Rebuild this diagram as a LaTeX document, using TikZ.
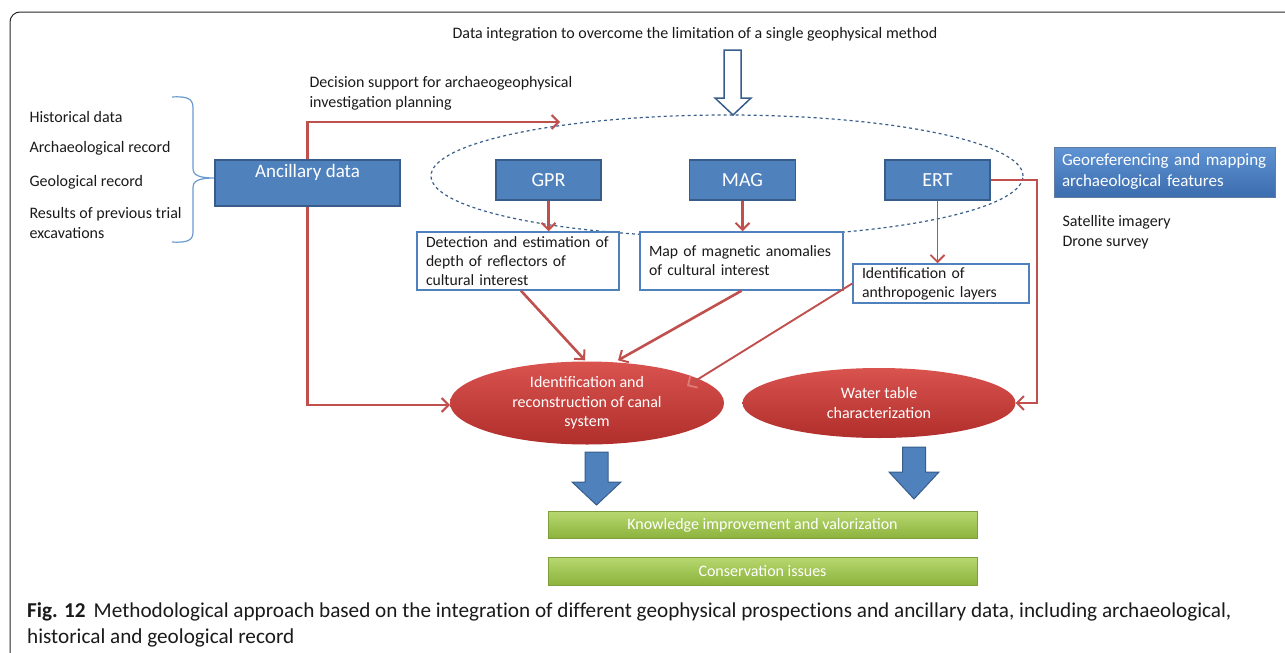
\documentclass[tikz,border=0pt]{standalone}
\usepackage{fontspec}
\setmainfont{Carlito}
\newfontfamily\capfont{Carlito}[Ligatures=NoCommon]
\usetikzlibrary{arrows.meta,calc,shapes.geometric}
\definecolor{bfill}{HTML}{4F81BD}
\definecolor{bdraw}{HTML}{385D8A}
\definecolor{rline}{HTML}{C0504D}
\definecolor{etop}{HTML}{D9534F}
\definecolor{ebot}{HTML}{B02E2B}
\definecolor{gtop}{HTML}{B7D870}
\definecolor{gbot}{HTML}{8CB23C}
\definecolor{gdraw}{HTML}{7E9F3C}
\definecolor{brc}{HTML}{6A9AD0}
\definecolor{gtopb}{HTML}{5E93D4}
\definecolor{gbotb}{HTML}{3C6DAE}
\definecolor{txt}{HTML}{1A1A1A}
\definecolor{rhead}{HTML}{E07A77}
\tikzset{
  fsmall/.style={font=\fontsize{16}{20}\selectfont, text=txt},
  bluebox/.style={draw=bdraw, line width=1.2, fill=bfill, text=white,
    font=\fontsize{20}{22}\selectfont, inner sep=0},
  whitebox/.style={draw=bfill, line width=1.5, fill=white, align=left,
    font=\fontsize{15.7}{19}\selectfont, text=txt, inner xsep=9, inner ysep=0},
  redell/.style={ellipse, top color=etop, bottom color=ebot, draw=none, text=white,
    align=center, inner sep=0, font=\fontsize{16}{19.5}\selectfont},
  rarrow/.style={draw=rline, line width=2.6, -{Straight Barb[length=7,width=14,line width=2]}},
  rarrowthin/.style={draw=rline, line width=1.9, -{Straight Barb[length=7,width=14,line width=1.8]}},
  greenbar/.style={top color=gtop, bottom color=gbot, draw=gdraw, line width=.6,
    minimum width=429, minimum height=27, inner sep=0, text=white,
    font=\fontsize{16}{18}\selectfont},
  blockarrow/.style={draw=bdraw, line width=1, fill=bfill},
}
\begin{document}
\begin{tikzpicture}[x=1pt,y=-1pt]
\useasboundingbox (0,0) rectangle (1285,653);
% frame
\draw[line width=1, black!85, rounded corners=10] (10,700) -- (10,12) -- (1330,12);

% top text and hollow arrow
\node[fsmall] (toptext) at (695,34) {Data integration to overcome the limitation of a single geophysical method};
\draw[draw=bdraw, fill=white, line width=1.5] (724,50) -- (741,50) -- (741,98) -- (751,98) -- (733,115) -- (715,98) -- (724,98) -- cycle;

% dashed ellipse
\node[ellipse, draw=bdraw, dashed, line width=1.2, minimum width=592, minimum height=122, inner sep=0] (integ) at (727,176) {};

% left list
\node[fsmall, anchor=west] (hist) at (26,117) {Historical data};
\node[fsmall, anchor=west] (arch) at (26,148) {Archaeological record};
\node[fsmall, anchor=west] (geol) at (26,182) {Geological record};
\node[fsmall, anchor=west, align=left] (res) at (26,223) {Results of previous trial\\excavations};
\draw[brc, line width=1.2] (172,97) .. controls (188,96) and (193,99) .. (193,108) -- (193,168)
  .. controls (193,175) and (198,178) .. (215,178)
  .. controls (198,178) and (193,181) .. (193,188) -- (193,232)
  .. controls (193,240) and (188,243) .. (172,242);

% ancillary
\node[bluebox, minimum width=185, minimum height=46] (anc) at (307.5,183) {};
\node[text=white, font=\fontsize{19}{22}\selectfont] (anctext) at (307.5,172) {Ancillary data};
\node[fsmall, anchor=west, align=left] (decision) at (306,93) {Decision support for archaeogeophysical\\investigation planning};
\coordinate (dtip) at (560,122);
\draw[rarrow] (anc.north) |- (dtip);
\draw[rarrow] (anc.south) |- (450,405);

% methods
\node[bluebox, minimum width=105, minimum height=40] (gpr) at (548.5,180) {GPR};
\node[bluebox, minimum width=106, minimum height=40] (mag) at (742.5,180) {MAG};
\node[bluebox, minimum width=105, minimum height=40] (ert) at (937.5,180) {ERT};

% result boxes
\node[whitebox, minimum width=202, minimum height=58, text width=184] (b1) at (518,261)
  {Detection and estimation of\\depth of reflectors of\\cultural interest};
\node[whitebox, minimum width=203, minimum height=58, text width=185] (b2) at (741.5,261)
  {Map of magnetic anomalies\\of cultural interest};
\node[whitebox, minimum width=176, minimum height=39, text width=158] (b3) at (941,283.5)
  {Identification of\\anthropogenic layers};

\draw[rarrow] (gpr.south) -- (gpr.south |- b1.north);
\draw[rarrow] (mag.south) -- (mag.south |- b2.north);
\draw[rarrowthin] (ert.south) -- (ert.south |- b3.north);

% ellipses
\node[redell, minimum width=274, minimum height=83] (canal) at (587,403)
  {Identification and\\reconstruction of canal\\system};
\node[redell, minimum width=273, minimum height=70] (water) at (879,403)
  {Water table\\characterization};

\draw[rarrow] ($(b1.south)+(3,0)$) -- ($(canal.north)+(-2,-1)$);
\draw[rarrow] ($(b2.south)+(0,0)$) -- ($(canal.north)+(31,-1)$);
\draw[draw=rline, line width=1.9, -{Straight Barb[length=7,width=14,line width=1.8,color=rhead]}] (b3.west) -- ($(canal.center)+(100,-17)$);
\coordinate (ertturn) at (1037,180);
\draw[rarrowthin] (ert.east) -- (ertturn) |- (water.east);

% block arrows
\draw[blockarrow] (585,452) -- (608,452) -- (608,482) -- (621,482) -- (596.5,505) -- (572,482) -- (585,482) -- cycle;
\draw[blockarrow] (902.5,447) -- (925.5,447) -- (925.5,472) -- (939,472) -- (914,499) -- (889,472) -- (902.5,472) -- cycle;

% green bars
\node[greenbar] (know) at (762.5,525) {Knowledge improvement and valorization};
\node[greenbar, minimum height=28] (cons) at (762.5,571) {Conservation issues};

% georeferencing
\node[draw=bdraw!80, line width=.8, top color=gtopb, bottom color=gbotb, minimum width=221,
  minimum height=50, text width=205, inner xsep=8, inner ysep=0, align=left, text=white,
  font=\fontsize{17}{21}\selectfont] (geo) at (1164.5,172) {Georeferencing and mapping\\archaeological features};
\node[anchor=west, align=left, text=txt, font=\fontsize{16}{20.5}\selectfont] (sat) at (1059,232) {Satellite imagery\\Drone survey};

% caption
\node[anchor=base west, text=txt, font=\capfont\fontsize{21.2}{25}\selectfont, inner sep=0] (cap1) at (27,617)
  {\textbf{Fig. 12}\hspace{8pt}Methodological approach based on the integration of different geophysical prospections and ancillary data, including archaeological,};
\node[anchor=base west, text=txt, font=\capfont\fontsize{21.2}{25}\selectfont, inner sep=0] (cap2) at (27,643)
  {historical and geological record};
\end{tikzpicture}
\end{document}
